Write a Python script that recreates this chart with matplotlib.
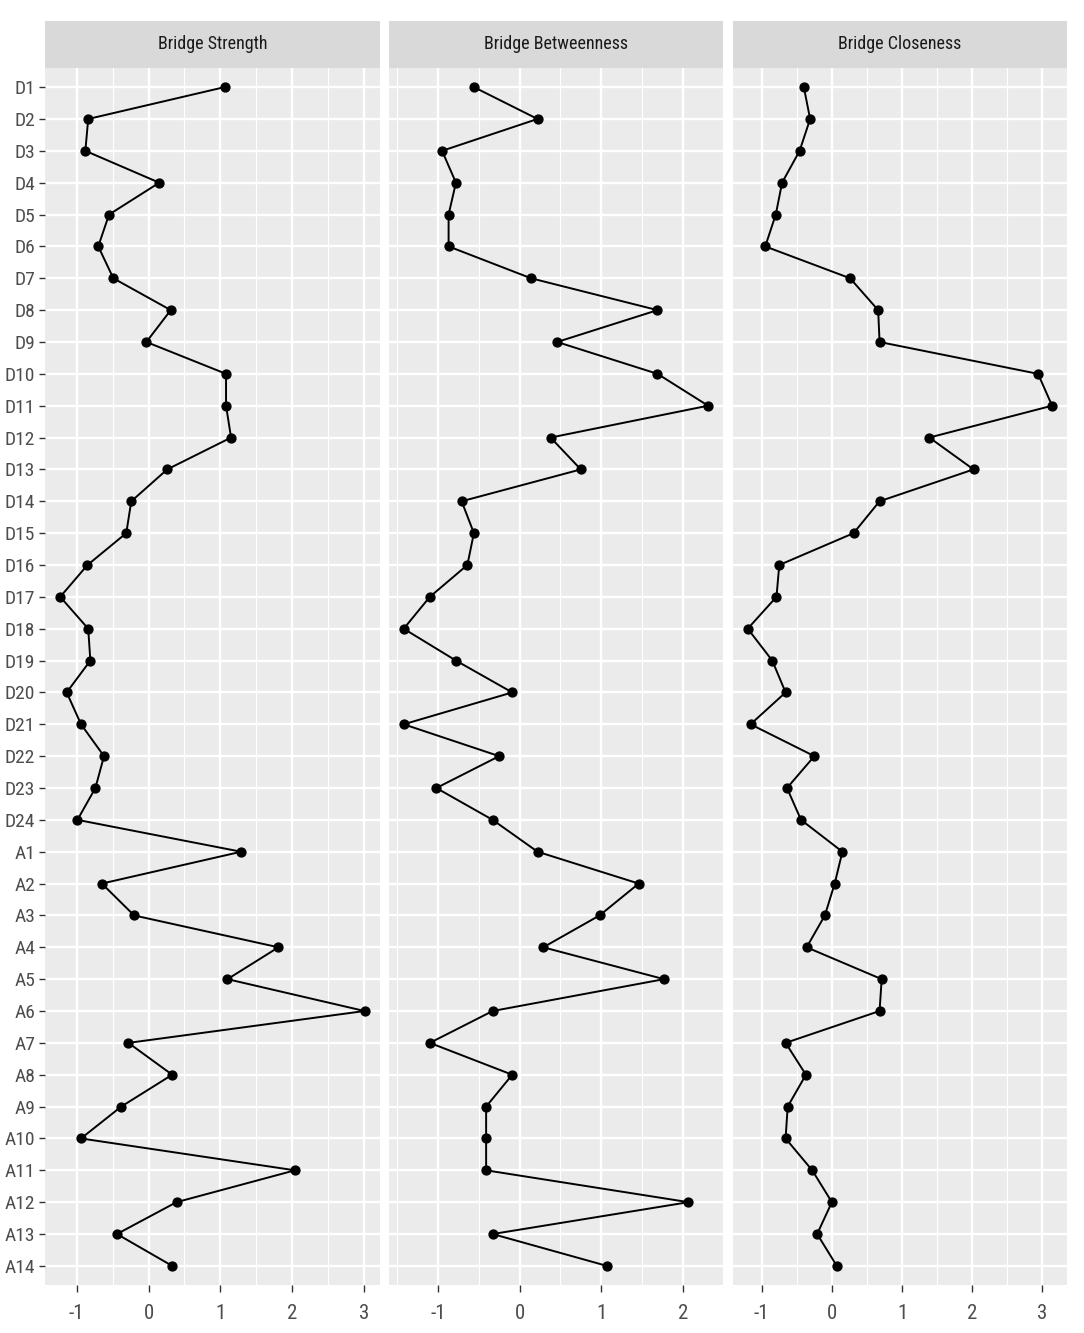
import matplotlib
matplotlib.use("Agg")
import matplotlib.pyplot as plt
from matplotlib.ticker import MultipleLocator, FuncFormatter

plt.rcParams['font.family'] = ['Roboto Condensed', 'Liberation Sans', 'DejaVu Sans']

nodes = ["D1", "D2", "D3", "D4", "D5", "D6", "D7", "D8", "D9", "D10", "D11", "D12",
         "D13", "D14", "D15", "D16", "D17", "D18", "D19", "D20", "D21", "D22", "D23", "D24",
         "A1", "A2", "A3", "A4", "A5", "A6", "A7", "A8", "A9", "A10", "A11", "A12", "A13", "A14"]

bridge_strength = [1.06, -0.84, -0.88, 0.15, -0.55, -0.70, -0.49, 0.31, -0.03, 1.08, 1.08, 1.15,
                   0.26, -0.24, -0.31, -0.85, -1.23, -0.84, -0.81, -1.14, -0.94, -0.62, -0.74, -0.99,
                   1.29, -0.65, -0.20, 1.81, 1.10, 3.01, -0.28, 0.33, -0.38, -0.94, 2.04, 0.39, -0.44, 0.33]

bridge_betweenness = [-0.56, 0.22, -0.95, -0.78, -0.87, -0.87, 0.14, 1.69, 0.46, 1.69, 2.31, 0.38,
                      0.75, -0.71, -0.56, -0.64, -1.10, -1.42, -0.78, -0.09, -1.42, -0.25, -1.02, -0.33,
                      0.22, 1.46, 0.98, 0.29, 1.77, -0.33, -1.10, -0.09, -0.41, -0.41, -0.41, 2.07, -0.33, 1.07]

bridge_closeness = [-0.40, -0.31, -0.46, -0.71, -0.80, -0.95, 0.26, 0.66, 0.68, 2.94, 3.14, 1.39,
                    2.02, 0.68, 0.31, -0.75, -0.79, -1.20, -0.85, -0.66, -1.16, -0.25, -0.64, -0.44,
                    0.15, 0.04, -0.10, -0.36, 0.71, 0.68, -0.66, -0.37, -0.63, -0.66, -0.28, 0.00, -0.21, 0.07]

panel_titles = ["Bridge Strength", "Bridge Betweenness", "Bridge Closeness"]
panel_values = [bridge_strength, bridge_betweenness, bridge_closeness]

W, H = 1084, 1333
fig = plt.figure(figsize=(W / 100, H / 100), dpi=100)
fig.patch.set_facecolor("white")

lefts = [45, 388.5, 732.5]
pw = 334.8
top_px, bot_px = 68, 1285
strip_top = 21

for i, (title, vals) in enumerate(zip(panel_titles, panel_values)):
    ax = fig.add_axes([lefts[i] / W, (H - bot_px) / H, pw / W, (bot_px - top_px) / H])
    ax.set_facecolor("#EBEBEB")
    ax.plot(vals, nodes, color="black", lw=1.4, marker="o", ms=6.4, zorder=3)
    lo, hi = min(vals), max(vals)
    pad = 0.05 * (hi - lo)
    ax.set_xlim(lo - pad, hi + pad)
    ax.set_ylim(len(nodes) - 1 + 0.6, -0.6)
    ax.xaxis.set_major_locator(MultipleLocator(1))
    ax.xaxis.set_minor_locator(MultipleLocator(0.5))
    ax.grid(which="major", color="white", lw=1.7, zorder=0)
    ax.grid(which="minor", axis="x", color="white", lw=0.85, zorder=0)
    ax.set_axisbelow(True)
    for s in ax.spines.values():
        s.set_visible(False)
    ax.tick_params(axis="y", which="major", length=4, width=1.0, color="#333333",
                   labelcolor="#4D4D4D", labelsize=14, pad=3)
    ax.tick_params(axis="x", which="major", length=5, width=1.0, color="#333333",
                   labelcolor="#4D4D4D", labelsize=15, pad=9)
    ax.tick_params(axis="x", which="minor", length=0)
    ax.xaxis.set_major_formatter(FuncFormatter(lambda v, p: f"{v:.0f}"))
    if i > 0:
        ax.tick_params(axis="y", which="both", left=False, labelleft=False)
    sax = fig.add_axes([lefts[i] / W, (H - top_px) / H, pw / W, (top_px - strip_top) / H])
    sax.set_facecolor("#D9D9D9")
    sax.set_xticks([])
    sax.set_yticks([])
    for s in sax.spines.values():
        s.set_visible(False)
    sax.text(0.5, 0.52, title, ha="center", va="center", fontsize=13, color="#1A1A1A",
             transform=sax.transAxes)

fig.savefig("out.png", dpi=100, facecolor="white")
